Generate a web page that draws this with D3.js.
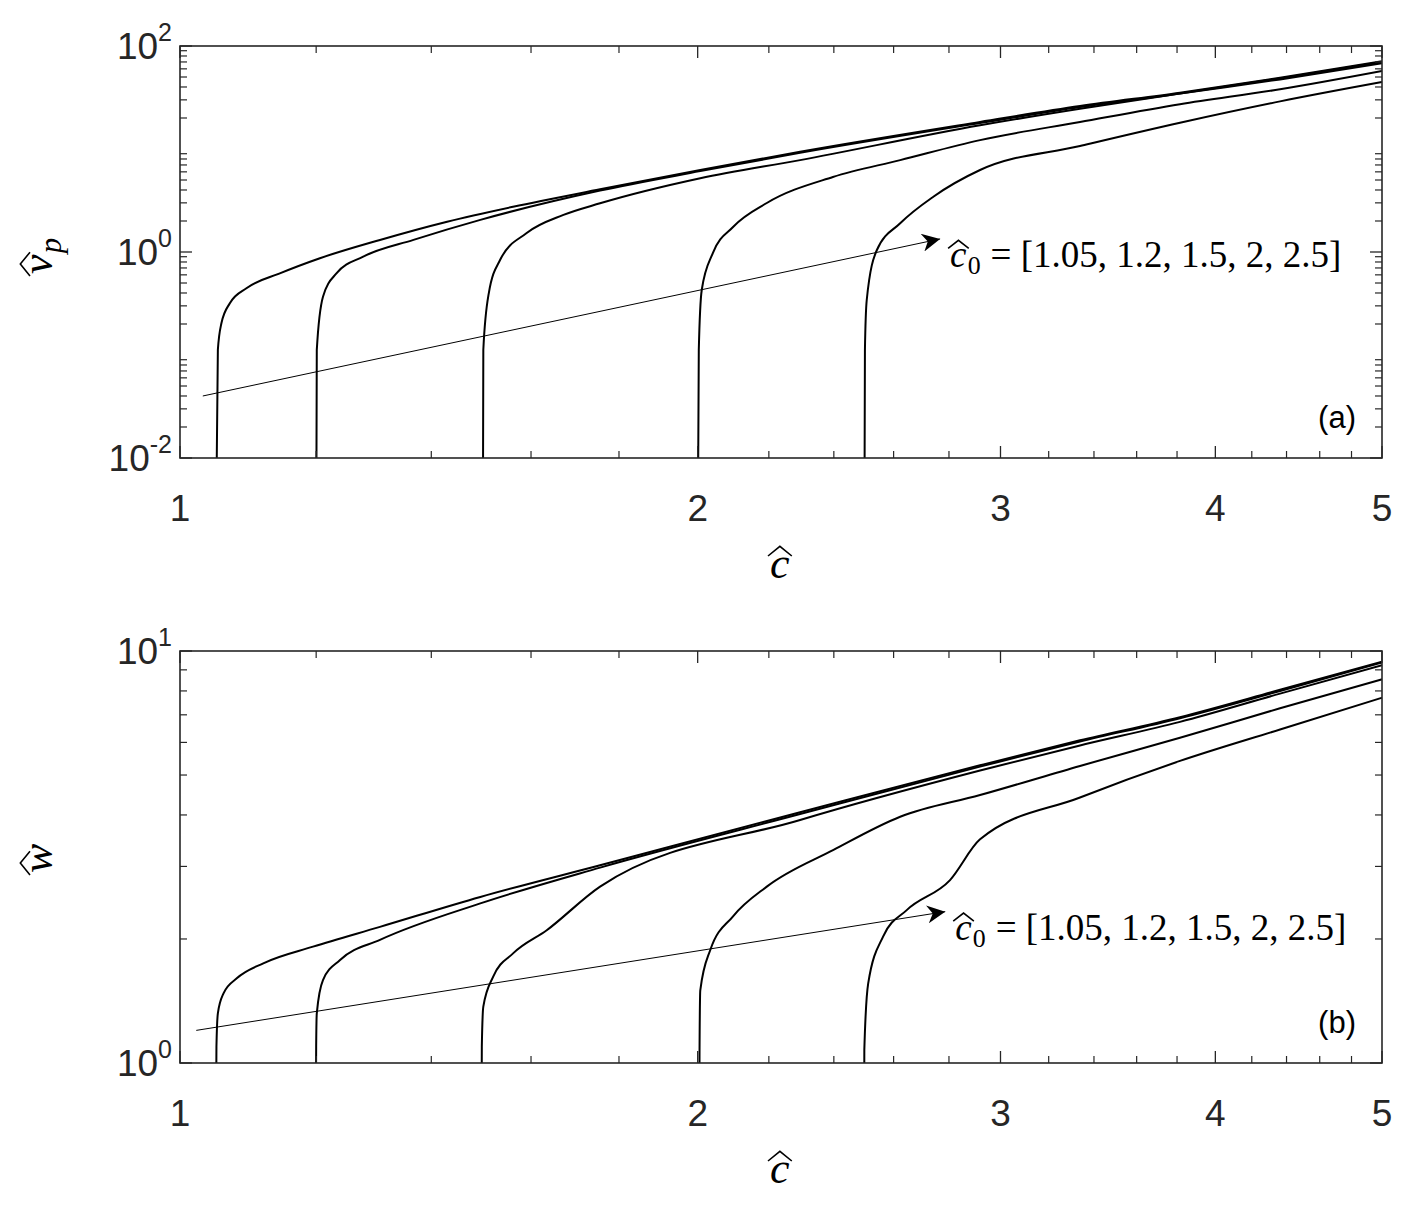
<!DOCTYPE html>
<html><head><meta charset="utf-8">
<script src="https://cdn.jsdelivr.net/npm/d3@7"></script>
<style>body{margin:0;background:#fff}</style>
</head><body>
<svg id="s" width="1409" height="1214"></svg>
<script>
// c0 values
const c0List = [1.05, 1.2, 1.5, 2, 2.5];
// panel (a): v_p vs c, [c, v]
const vA1 = [[1.049,0.001],[1.052,0.112],[1.057,0.203],[1.069,0.318],[1.093,0.445],[1.143,0.62],[1.206,0.87],[1.307,1.31],[1.43,1.97],[1.562,2.75],[1.755,4.06],[2.007,6.25],[2.294,9.4],[2.919,18.3],[3.337,26.1],[3.815,35.2],[4.362,49.2],[5,71]];
const vA2 = [[1.2,0.001],[1.201,0.112],[1.211,0.368],[1.233,0.62],[1.278,0.9],[1.367,1.31],[1.495,2.05],[1.755,3.95],[2.007,6.1],[2.294,9.2],[2.919,17.9],[3.337,25.5],[3.815,34.6],[4.362,48.5],[5,70]];
const vA3 = [[1.5,0.001],[1.501,0.112],[1.512,0.397],[1.535,0.836],[1.59,1.52],[1.671,2.29],[1.755,2.97],[2.007,5.2],[2.294,7.8],[2.919,17.0],[3.337,24.6],[3.815,34.5],[4.362,47.4],[5,68]];
const vA4 = [[2.0,0.001],[2.003,0.112],[2.011,0.43],[2.041,0.977],[2.097,1.75],[2.194,2.99],[2.397,5.35],[2.623,7.8],[2.919,12.2],[3.337,18.3],[3.815,27.2],[4.362,38],[5,57.2]];
const vA5 = [[2.5,0.001],[2.502,0.112],[2.508,0.34],[2.542,1.04],[2.623,1.9],[2.742,3.44],[2.919,6.25],[3.337,10.7],[3.815,18],[4.362,29],[5,44.7]];
// panel (b): w vs c
const wB1 = [[1.049,0.5],[1.05,1.096],[1.052,1.32],[1.06,1.476],[1.079,1.605],[1.118,1.746],[1.195,1.916],[1.307,2.14],[1.495,2.53],[1.755,3.02],[2.294,4.06],[2.919,5.28],[3.337,6.07],[3.815,6.91],[4.362,8.05],[5,9.42]];
const wB2 = [[1.199,0.5],[1.2,1.096],[1.201,1.32],[1.211,1.59],[1.239,1.778],[1.307,1.99],[1.495,2.44],[1.755,2.98],[2.294,4.02],[2.919,5.24],[3.337,6.03],[3.815,6.87],[4.362,8.0],[5,9.38]];
const wB3 = [[1.497,0.5],[1.498,1.096],[1.501,1.37],[1.521,1.62],[1.562,1.845],[1.634,2.10],[1.755,2.68],[2.294,3.89],[2.919,5.13],[3.337,5.9],[3.815,6.73],[4.362,7.88],[5,9.23]];
const wB4 = [[2.004,0.5],[2.005,1.076],[2.007,1.5],[2.034,1.88],[2.097,2.27],[2.194,2.68],[2.399,3.29],[2.623,3.96],[2.919,4.47],[3.337,5.26],[3.815,6.16],[4.362,7.26],[5,8.54]];
const wB5 = [[2.499,0.5],[2.5,1.076],[2.513,1.56],[2.564,2.03],[2.646,2.35],[2.804,2.78],[2.919,3.49],[3.337,4.41],[3.815,5.41],[4.362,6.45],[5,7.70]];
const xTicks = [1,2,3,4,5];
const xTickLabels = ["1","2","3","4","5"];
const yTicksA = [0.01,1,100]; const yTickExpA = ["-2","0","2"];
const yTicksB = [1,10]; const yTickExpB = ["0","1"];
const arrowA = [[1.031,0.04],[2.767,1.34]];
const arrowB = [[1.022,1.2],[2.786,2.33]];
const annText = "= [1.05, 1.2, 1.5, 2, 2.5]";

const svg = d3.select("#s");
const L=180,R=1382;
const x = d3.scaleLog().domain([1,5]).range([L,R]);
const defs = svg.append("defs");
defs.append("marker").attr("id","ah").attr("viewBox","0 0 10 10").attr("refX",10).attr("refY",5)
 .attr("markerWidth",26).attr("markerHeight",18).attr("markerUnits","userSpaceOnUse").attr("orient","auto")
 .append("path").attr("d","M0,0 L10,5 L0,10 L3,5 Z").attr("fill","#000");

const minorX=[]; for(let v=1.2; v<5; v+=0.2){const r=Math.round(v*10)/10; if(![2,3,4].includes(r)) minorX.push(r);}

function hatText(g,xp,yp,size,letter,sub,rest,family){
  g.append("text").attr("x",xp).attr("y",yp).attr("font-family",family).attr("font-size",size).attr("font-style","italic").text(letter);
  let w=size*0.45;
  g.append("path").attr("d",`M${xp-2},${yp-size*0.5} L${xp+w/2},${yp-size*0.72} L${xp+w+2},${yp-size*0.5}`)
   .attr("fill","none").attr("stroke","#000").attr("stroke-width",1.6);
  let xx=xp+w+1;
  if(sub){g.append("text").attr("x",xx).attr("y",yp+size*0.2).attr("font-family",family).attr("font-size",size*0.7).attr("font-style",sub.italic?"italic":"normal").text(sub.t); xx+=size*0.4;}
  if(rest){g.append("text").attr("x",xx+8).attr("y",yp).attr("font-family",family).attr("font-size",size).text(rest);}
}

function panel(top,bot,ydom,yt,yexp,series,arrow,tag,ylab){
  const y=d3.scaleLog().domain(ydom).range([bot,top]);
  const g=svg.append("g");
  const cid="clip"+tag;
  defs.append("clipPath").attr("id",cid).append("rect").attr("x",L).attr("y",top).attr("width",R-L).attr("height",bot-top);
  const line=d3.line().x(d=>x(d[0])).y(d=>y(d[1])).curve(d3.curveMonotoneX);
  const cg=g.append("g").attr("clip-path",`url(#${cid})`);
  series.forEach(s=>cg.append("path").attr("d",line(s)).attr("fill","none").attr("stroke","#000").attr("stroke-width",2));
  cg.append("line").attr("x1",x(arrow[0][0])).attr("y1",y(arrow[0][1])).attr("x2",x(arrow[1][0])).attr("y2",y(arrow[1][1]))
    .attr("stroke","#000").attr("stroke-width",1).attr("marker-end","url(#ah)");
  const tc="#262626";
  g.append("rect").attr("x",L).attr("y",top).attr("width",R-L).attr("height",bot-top).attr("fill","none").attr("stroke",tc).attr("stroke-width",1.6);
  xTicks.forEach((v,i)=>{
    g.append("line").attr("x1",x(v)).attr("x2",x(v)).attr("y1",bot).attr("y2",bot-12).attr("stroke",tc).attr("stroke-width",1.3);
    g.append("line").attr("x1",x(v)).attr("x2",x(v)).attr("y1",top).attr("y2",top+12).attr("stroke",tc).attr("stroke-width",1.3);
    g.append("text").attr("x",x(v)).attr("y",bot+63).attr("text-anchor","middle").attr("font-family","Liberation Sans, Arial").attr("font-size",37).attr("fill","#262626").text(xTickLabels[i]);
  });
  minorX.forEach(v=>{
    g.append("line").attr("x1",x(v)).attr("x2",x(v)).attr("y1",bot).attr("y2",bot-7).attr("stroke",tc).attr("stroke-width",1.2);
    g.append("line").attr("x1",x(v)).attr("x2",x(v)).attr("y1",top).attr("y2",top+7).attr("stroke",tc).attr("stroke-width",1.2);
  });
  const e0=Math.log10(ydom[0]),e1=Math.log10(ydom[1]);
  for(let e=e0;e<e1;e++){for(let k=2;k<=9;k++){const v=k*Math.pow(10,e);
    g.append("line").attr("x1",L).attr("x2",L+7).attr("y1",y(v)).attr("y2",y(v)).attr("stroke",tc).attr("stroke-width",1.2);
    g.append("line").attr("x1",R).attr("x2",R-7).attr("y1",y(v)).attr("y2",y(v)).attr("stroke",tc).attr("stroke-width",1.2);}}
  yt.forEach((v,i)=>{
    g.append("line").attr("x1",L).attr("x2",L+12).attr("y1",y(v)).attr("y2",y(v)).attr("stroke",tc).attr("stroke-width",1.3);
    g.append("line").attr("x1",R).attr("x2",R-12).attr("y1",y(v)).attr("y2",y(v)).attr("stroke",tc).attr("stroke-width",1.3);
    const t=g.append("text").attr("x",L-8).attr("y",y(v)+13).attr("text-anchor","end").attr("font-family","Liberation Sans, Arial").attr("font-size",37).attr("fill","#262626");
    t.append("tspan").text("10");
    t.append("tspan").attr("dy",-18).attr("font-size",25).text(yexp[i]);
  });
  g.append("text").attr("x",R-26).attr("y",bot-30).attr("text-anchor","end").attr("font-family","Liberation Sans, Arial").attr("font-size",31).text(`(${tag})`);
  const ax=x(arrow[1][0])+10, ay=y(arrow[1][1])+28;
  hatText(g,ax,ay,37,"c",{t:"0"},annText,"Liberation Serif, DejaVu Serif");
  hatText(g,770,bot+120,44,"c",null,null,"Liberation Serif, DejaVu Serif");
  const yg=g.append("g").attr("transform",`translate(52,${(top+bot)/2}) rotate(-90)`);
  if(ylab==="v") hatText(yg,-22,0,44,"v",{t:"p",italic:true},null,"Liberation Serif, DejaVu Serif");
  else hatText(yg,-16,0,44,"w",null,null,"Liberation Serif, DejaVu Serif");
}
panel(46,458,[0.01,100],yTicksA,yTickExpA,[vA1,vA2,vA3,vA4,vA5],arrowA,"a","v");
panel(651,1063,[1,10],yTicksB,yTickExpB,[wB1,wB2,wB3,wB4,wB5],arrowB,"b","w");
</script>
</body></html>
